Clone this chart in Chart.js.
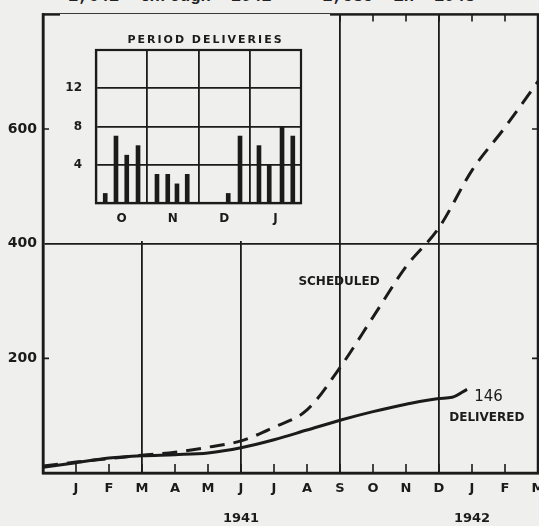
<!DOCTYPE html>
<html>
<head>
<meta charset="utf-8">
<script src="https://cdn.jsdelivr.net/npm/chart.js@4.4.1/dist/chart.umd.min.js"></script>
<style>
  html, body { margin: 0; padding: 0; background: #efefed; overflow: hidden; }
  #wrap { position: relative; width: 539px; height: 526px; }
  #main { position: absolute; left: 0; top: 0; }
  #inset { position: absolute; left: 60px; top: 14px; }
  #topnote { position: absolute; left: 68px; top: -13px; font: bold 17px "Liberation Mono", monospace; color: #222; word-spacing: 10px; white-space: nowrap; }
</style>
</head>
<body>
<div id="wrap">
  <div id="topnote">1,641 through 1942 — 1,535 in 1943</div>
  <canvas id="main" width="539" height="526"></canvas>
  <canvas id="inset" width="270" height="227"></canvas>
</div>
<script>
// months on the main axis (0 = end of Dec 1940)
const months = ['', 'J', 'F', 'M', 'A', 'M', 'J', 'J', 'A', 'S', 'O', 'N', 'D', 'J', 'F', 'M'];
const years = { 6: '1941', 13: '1942' };
const yLabelled = [200, 400, 600];

// cumulative curves
const scheduledMonth = [0, 1, 2, 3, 4, 5, 6, 7, 8, 9, 10, 11, 12, 13, 14, 15];
const scheduledCum = [12, 19, 25, 31, 36, 45, 56, 80, 110, 184, 272, 360, 428, 528, 603, 683];
const deliveredMonth = [0, 1, 2, 3, 4, 5, 6, 7, 8, 9, 10, 11, 12, 12.4, 12.85];
const deliveredCum = [10, 18, 26, 30, 32, 35, 44, 58, 75, 92, 107, 120, 130, 132, 146];

// inset: deliveries per period, Oct 1941 - Jan 1942
const insetMonths = ['O', 'N', 'D', 'J'];
const periodPos = [0.18, 0.39, 0.6, 0.82, 1.19, 1.4, 1.58, 1.78, 2.58, 2.81, 3.18, 3.38, 3.63, 3.84];
const periodDeliveries = [1, 7, 5, 6, 3, 3, 2, 3, 1, 7, 6, 4, 8, 7];
const insetLabelled = [4, 8, 12];

const ink = '#1b1b1b';
const bg = '#efefed';
const fam = '"DejaVu Sans", sans-serif';

// inside tick marks, frame and text notes for the main chart
const mainFrame = {
  id: 'mainFrame',
  beforeDatasetsDraw(chart) {
    const { ctx, chartArea: a, scales: { x, y } } = chart;
    ctx.save();
    ctx.strokeStyle = ink;
    ctx.lineWidth = 1.6;
    ctx.beginPath();
    for (let m = 1; m < months.length; m++) {
      const px = x.getPixelForValue(m);
      ctx.moveTo(px, a.bottom); ctx.lineTo(px, a.bottom - 9);
      ctx.moveTo(px, a.top); ctx.lineTo(px, a.top + 7);
    }
    [200, 600].forEach(v => {
      const py = y.getPixelForValue(v);
      ctx.moveTo(a.left, py); ctx.lineTo(a.left + 6, py);
      ctx.moveTo(a.right, py); ctx.lineTo(a.right - 6, py);
    });
    ctx.stroke();
    ctx.lineWidth = 2.5;
    ctx.strokeRect(a.left, a.top, a.width, a.height);
    ctx.restore();
  },
  afterDatasetsDraw(chart) {
    const { ctx, scales: { x, y } } = chart;
    const notes = [
      { t: 'SCHEDULED', mx: 8.97, v: 334, f: 'bold 12px ' + fam },
      { t: '146', mx: 13.5, v: 132, f: '15px ' + fam },
      { t: 'DELIVERED', mx: 13.45, v: 96, f: 'bold 12px ' + fam }
    ];
    ctx.save();
    ctx.fillStyle = ink;
    ctx.textAlign = 'center';
    ctx.textBaseline = 'middle';
    notes.forEach(n => {
      ctx.font = n.f;
      ctx.fillText(n.t, x.getPixelForValue(n.mx), y.getPixelForValue(n.v));
    });
    ctx.restore();
  }
};

new Chart(document.getElementById('main'), {
  type: 'line',
  data: {
    datasets: [{
      label: 'Scheduled',
      data: scheduledMonth.map((m, i) => ({ x: m, y: scheduledCum[i] })),
      borderColor: ink,
      borderWidth: 3,
      borderDash: [15, 9],
      pointRadius: 0,
      cubicInterpolationMode: 'monotone',
      fill: false
    }, {
      label: 'Delivered',
      data: deliveredMonth.map((m, i) => ({ x: m, y: deliveredCum[i] })),
      borderColor: ink,
      borderWidth: 3,
      pointRadius: 0,
      cubicInterpolationMode: 'monotone',
      fill: false
    }]
  },
  options: {
    responsive: false,
    animation: false,
    layout: { padding: { top: 12, right: 1 } },
    plugins: { legend: { display: false }, tooltip: { enabled: false } },
    scales: {
      x: {
        type: 'linear', min: 0, max: 15,
        border: { display: true, color: ink, width: 2.5 },
        grid: {
          drawTicks: false,
          lineWidth: 1.8,
          color: c => [3, 6, 9, 12].includes(c.tick && c.tick.value) ? ink : 'transparent'
        },
        ticks: {
          stepSize: 1, autoSkip: false, maxRotation: 0, padding: 1,
          color: ink,
          font: { family: fam, size: 13, weight: 'bold', lineHeight: 30 / 13 },
          callback: v => years[v] ? [months[v], years[v]] : months[v]
        },
        afterFit: s => { s.height = 53; s.paddingLeft = 0; s.paddingRight = 0; }
      },
      y: {
        min: 0, max: 800,
        border: { display: true, color: ink, width: 2.5 },
        grid: {
          drawTicks: false,
          lineWidth: 1.8,
          color: c => (c.tick && c.tick.value === 400) ? ink : 'transparent'
        },
        ticks: {
          stepSize: 200, padding: 6, color: ink,
          font: { family: fam, size: 14, weight: 'bold' },
          callback: v => yLabelled.includes(v) ? String(v) : ''
        },
        afterFit: s => { s.width = 43; }
      }
    }
  },
  plugins: [mainFrame]
});

// inset: background, frame, title
const insetFrame = {
  id: 'insetFrame',
  beforeDraw(chart) {
    const { ctx, width, height } = chart;
    ctx.save();
    ctx.fillStyle = bg;
    ctx.fillRect(0, 0, width, height);
    ctx.restore();
  },
  afterDraw(chart) {
    const { ctx, chartArea: a } = chart;
    ctx.save();
    ctx.strokeStyle = ink;
    ctx.lineWidth = 2.2;
    ctx.strokeRect(a.left, a.top, a.width, a.height);
    ctx.fillStyle = ink;
    ctx.font = 'bold 11px ' + fam;
    ctx.letterSpacing = '2px';
    ctx.textAlign = 'center';
    ctx.textBaseline = 'middle';
    ctx.fillText('PERIOD DELIVERIES', (a.left + a.right) / 2 + 7, a.top - 10);
    ctx.restore();
  }
};

new Chart(document.getElementById('inset'), {
  type: 'bar',
  data: {
    datasets: [{
      label: 'Period deliveries',
      data: periodPos.map((p, i) => ({ x: p, y: periodDeliveries[i] })),
      backgroundColor: ink,
      barThickness: 4
    }]
  },
  options: {
    responsive: false,
    animation: false,
    layout: { padding: { top: 36, right: 29 } },
    plugins: { legend: { display: false }, tooltip: { enabled: false } },
    scales: {
      x: {
        type: 'linear', min: 0, max: 4, offset: false,
        border: { display: true, color: ink, width: 2.2 },
        grid: {
          offset: false, drawTicks: false, lineWidth: 1.8,
          color: c => {
            const v = c.tick && c.tick.value;
            return (Number.isInteger(v) && v > 0 && v < 4) ? ink : 'transparent';
          }
        },
        ticks: {
          stepSize: 0.5, autoSkip: false, maxRotation: 0, padding: 9, color: ink,
          font: { family: fam, size: 12, weight: 'bold' },
          callback: v => Number.isInteger(v) ? '' : insetMonths[Math.floor(v)]
        },
        afterFit: s => { s.height = 38; s.paddingLeft = 0; s.paddingRight = 0; }
      },
      y: {
        min: 0, max: 16,
        border: { display: true, color: ink, width: 2.2 },
        grid: {
          drawTicks: false, lineWidth: 1.8,
          color: c => insetLabelled.includes(c.tick && c.tick.value) ? ink : 'transparent'
        },
        ticks: {
          stepSize: 4, padding: 14, color: ink,
          font: { family: fam, size: 12, weight: 'bold' },
          callback: v => insetLabelled.includes(v) ? String(v) : ''
        },
        afterFit: s => { s.width = 36; }
      }
    }
  },
  plugins: [insetFrame]
});
</script>
</body>
</html>
